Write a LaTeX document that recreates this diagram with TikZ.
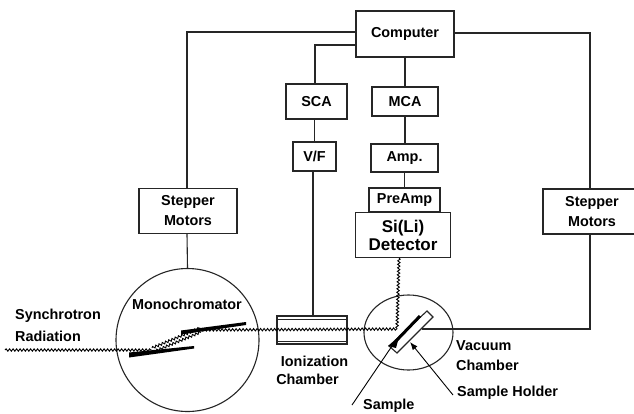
\documentclass[tikz,border=0pt]{standalone}
\usepackage{fontspec}
\setmainfont{Liberation Sans}[BoldFont=* Bold]
\usetikzlibrary{decorations.pathmorphing,arrows.meta,calc,shapes.geometric}
\tikzset{
  x=1pt,y=-1pt,
  wire/.style={line width=1.1pt,black!85},
  boxn/.style={draw=black!85,line width=1.1pt,fill=white,inner sep=0pt,align=center,font=\fontsize{14.4}{20}\selectfont\bfseries},
  lab/.style={inner sep=0pt,anchor=west,font=\fontsize{14.4}{20}\selectfont\bfseries},
  beam/.style={line width=.9pt,black,decorate,decoration={snake,amplitude=1.2pt,segment length=3.5pt}},
  crystal/.style={fill=black,draw=none},
  ptr/.style={line width=.9pt,black,-{Latex[length=8pt,width=6pt]}}
}
\begin{document}
\begin{tikzpicture}
\useasboundingbox (0,0) rectangle (634,413);
\fill[white] (0,0) rectangle (634,413);
% boxes
\node[boxn,minimum width=98pt,minimum height=46pt] (comp) at (405,34) {Computer};
\node[boxn,minimum width=61pt,minimum height=35pt] (sca) at (316.5,101.5) {SCA};
\node[boxn,minimum width=66pt,minimum height=29pt] (mca) at (405,101.5) {MCA};
\node[boxn,minimum width=43pt,minimum height=29pt] (vf) at (314.5,156.5) {V/F};
\node[boxn,minimum width=67pt,minimum height=28pt] (amp) at (404.5,158) {Amp.};
\node[boxn,minimum width=71pt,minimum height=24pt] (pre) at (404.5,200) {PreAmp};
\node[boxn,minimum width=95pt,minimum height=45pt,font=\fontsize{17}{18}\selectfont\bfseries] (det) at (403,235) {Si(Li)\\Detector};
\node[boxn,minimum width=98pt,minimum height=45pt] (sl) at (188,211) {Stepper\\Motors};
\node[boxn,minimum width=98pt,minimum height=45pt] (sr) at (592,211.5) {Stepper\\Motors};
\node[draw=black!85,line width=1.1pt,circle,minimum size=143pt,inner sep=0pt] (mono) at (187.5,340) {};
\node[draw=black!85,line width=1.1pt,ellipse,minimum width=89pt,minimum height=75pt,inner sep=0pt] (vac) at (408.5,332.5) {};
\node[draw=black!85,line width=1.1pt,minimum width=70pt,minimum height=28pt,inner sep=0pt] (ion) at (312,330) {};
\draw[line width=.8pt,black!85] ($(ion.west)+(0,-10.5)$) -- ($(ion.east)+(0,-10.5)$) ($(ion.west)+(0,11)$) -- ($(ion.east)+(0,11)$);
% coordinates
\coordinate (a) at (5,350);
\coordinate (b) at (152,350);
\coordinate (c) at (200,330);
\coordinate (d) at (397,329);
\coordinate (e) at (399,258);
% wires
\draw[wire] (comp.west|-0,32) -| (sl.north-|187,0);
\draw[wire] (comp.east|-0,33) -| (590,188.5);
\draw[wire] (comp.west|-0,45) -| (sca.north-|315,0);
\draw[wire] (comp.south) -- (mca.north);
\draw[wire] (mca.south) -- (amp.north-|mca.south);
\draw[wire] (amp.south) -- (pre.north);
\draw[wire] (sca.south-|314.5,0) -- (vf.north);
\draw[wire] (vf.south-|313,0) -- (ion.north-|313,0);
\draw[wire] (sl.south-|187,0) -- (mono.north);
\draw[wire] (590,234) |- (422,329);
% beams
\draw[beam] (a) -- (b);
\draw[beam] ($(b)+(0,-2)$) -- ($(c)+(0,-2)$);
\draw[beam] ($(b)+(1,2)$) -- ($(c)+(1,2)$);
\draw[beam] (c) -- (d);
\draw[beam] (e) -- (d);
% crystals
\fill[crystal] (129,352.5) -- (129,357.5) -- (194,348.5) -- (194,346) -- cycle;
\fill[crystal] (181,330.5) -- (181,334.5) -- (246,325) -- (246,322) -- cycle;
% sample
\draw[line width=1.1pt,black!85,fill=white] (427,311) -- (433,317) -- (397,353) -- (389,346) -- cycle;
\draw[line width=3pt,black] (420,316) -- (396,341);
\fill[black] (388,346) -- (399,337) -- (396,348) -- cycle;
% pointers
\coordinate (s1) at (352,405);
\coordinate (s2) at (392,346);
\coordinate (h1) at (453,395);
\coordinate (h2) at (410,342);
\draw[line width=.9pt,black] (s1) -- (s2);
\draw[ptr] (h1) -- (h2);
% labels
\node[lab] (l1) at (15,316) {Synchrotron};
\node[lab] (l2) at (15,336) {Radiation};
\node[lab,anchor=center] (l3) at (187,304) {Monochromator};
\node[lab,anchor=center] (l4) at (314.5,361) {Ionization};
\node[lab,anchor=center] (l5) at (307.5,379) {Chamber};
\node[lab] (l6) at (456,346) {Vacuum};
\node[lab] (l7) at (456,365) {Chamber};
\node[lab] (l8) at (457,393) {Sample Holder};
\node[lab] (l9) at (363,406) {Sample};
\end{tikzpicture}
\end{document}
